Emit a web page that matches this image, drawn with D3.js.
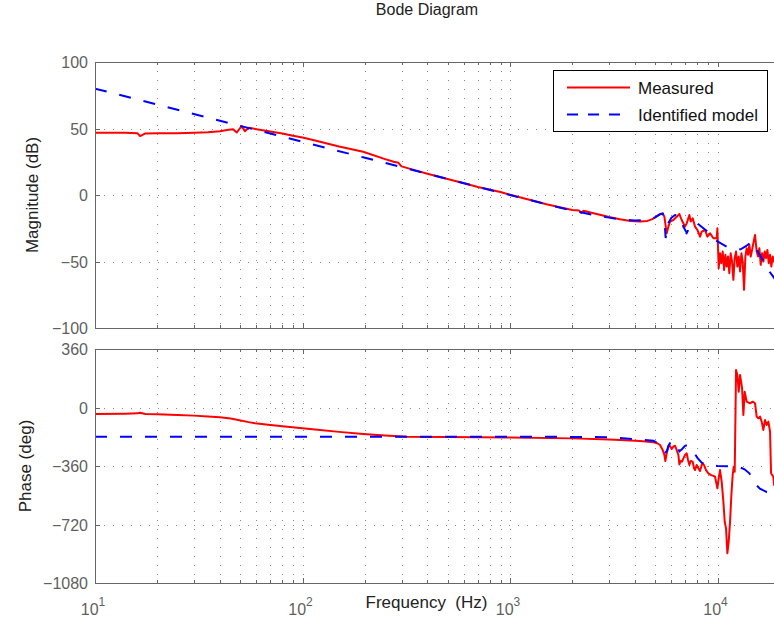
<!DOCTYPE html>
<html>
<head>
<meta charset="utf-8">
<script src="https://cdn.jsdelivr.net/npm/d3@7"></script>
<style>
  body { margin: 0; background: #fff; }
  svg { display: block; font-family: "Liberation Sans", Arial, sans-serif; }
</style>
</head>
<body>
<div id="chart"></div>
<script>
// Measured magnitude (Hz, dB)
const measuredMag = [
  [10, 46.8], [14, 46.8], [16, 46.5], [16.5, 44.3], [17.5, 46.3], [20, 46.5], [25, 46.5],
  [30, 46.8], [35, 47.2], [40, 48.0], [44, 49.0], [46.3, 49.5], [48.2, 47.0], [50.9, 51.8],
  [52.8, 48.0], [55, 50.5], [60, 49.5], [70, 47.8], [80, 46.3], [90, 44.5], [100, 43.2],
  [115, 41.0], [150, 36.5], [196, 32.5], [250, 27.0], [275, 25.0], [290, 24.2], [300, 21.5],
  [350, 18.5], [400, 16.0], [500, 12.0], [600, 8.8], [700, 6.0], [800, 4.0], [900, 2.2],
  [1000, 0.2], [1200, -3], [1500, -7], [1800, -9.8], [2000, -11.2], [2150, -11.6],
  [2200, -13.5], [2260, -11.8], [2500, -13.6], [3000, -16.6], [3389, -18.3], [3800, -19.5],
  [4231, -20.0], [4600, -19.5], [4817, -18.3], [5100, -16.0], [5284, -14.3], [5443, -13.8],
  [5544, -16.3], [5689, -28.8], [5796, -23.8], [5904, -20.0], [6126, -18.8], [6358, -16.3],
  [6549, -14.3], [6720, -18.8], [6973, -23.8], [7103, -21.3], [7317, -15.0], [7425, -20.0],
  [7592, -17.5], [7793, -23.8], [7997, -26.3], [8238, -31.3], [8391, -27.5], [8708, -26.3],
  [8935, -31.3], [9204, -28.8], [9549, -32.5], [9908, -32.5], [9982, -25.0], [10130, -55.0],
  [10280, -43.8], [10430, -51.3], [10590, -42.5], [10750, -56.3], [10910, -45.0],
  [11070, -53.8], [11230, -46.3], [11400, -58.8], [11570, -43.8], [11750, -50.0],
  [11920, -63.8], [12100, -47.5], [12280, -42.5], [12460, -53.8], [12650, -46.3],
  [12840, -57.5], [13030, -43.8], [13220, -50.0], [13420, -71.3], [13620, -46.3],
  [13820, -40.0], [14030, -45.0], [14240, -37.5], [14450, -46.3], [14670, -41.3],
  [14880, -36.3], [15160, -30.0], [15440, -42.5], [15680, -46.3], [15910, -40.0],
  [16150, -52.5], [16390, -43.8], [16630, -50.0], [16880, -42.5], [17130, -47.5],
  [17390, -41.3], [17650, -51.3], [17910, -45.0], [18170, -53.8], [18450, -46.3],
  [18720, -50.0], [19300, -52.0], [20000, -49.0]
];

// Identified model magnitude (Hz, dB)
const modelMag = [
  [10, 80], [20, 68], [50, 52], [100, 40], [200, 28], [300, 21], [500, 12], [1000, 0],
  [1500, -7], [2000, -11.8], [2500, -14.8], [3000, -17.0], [3389, -18.3], [4000, -19.2],
  [4600, -18.6], [5000, -16.8], [5283, -14.5], [5442, -14.0], [5544, -18.0], [5623, -32.3],
  [5700, -27.0], [5800, -21.0], [6000, -17.0], [6240, -15.0], [6500, -15.5], [6700, -18.0],
  [6840, -23.8], [7110, -28.5], [7300, -25.0], [7520, -22.5], [7950, -21.0], [8400, -24.0],
  [8940, -27.5], [9730, -33.8], [11070, -38.8], [12000, -40.5], [12930, -40.8],
  [13700, -38.5], [14450, -35.8], [14900, -35.5], [15450, -41.3], [16520, -48.8],
  [17780, -57.5], [18720, -62.3], [20000, -68.0]
];

// Measured phase (Hz, deg)
const measuredPhase = [
  [10, -40], [14, -38], [16, -36], [16.5, -32], [17.5, -40], [20, -42], [25, -46], [30, -50],
  [35, -55], [40, -60], [45, -68], [49, -77], [55, -90], [59, -97], [70, -108], [80, -116],
  [100, -128], [115, -136], [150, -150], [196, -163], [250, -172], [318, -180], [500, -182],
  [1000, -185], [2000, -190], [3000, -197], [3389, -200], [4231, -206], [4908, -214],
  [5129, -220], [5283, -231], [5442, -262], [5544, -292], [5606, -329], [5689, -282],
  [5796, -241], [5861, -231], [6014, -255], [6126, -241], [6240, -235], [6357, -262],
  [6476, -292], [6549, -350], [6646, -329], [6745, -333], [6845, -313], [6973, -292],
  [7103, -282], [7209, -323], [7317, -354], [7425, -329], [7591, -333], [7703, -374],
  [7789, -385], [7934, -354], [8082, -374], [8234, -391], [8388, -354], [8482, -344],
  [8609, -354], [8801, -385], [9033, -405], [9269, -415], [9477, -419], [9727, -426],
  [9835, -456], [9982, -497], [10130, -436], [10280, -385], [10470, -456], [10670, -579],
  [10830, -703], [10990, -744], [11150, -897], [11320, -826], [11490, -703], [11660, -538],
  [11830, -415], [11970, -364], [12100, -395], [12190, -87], [12280, 231], [12460, 200],
  [12650, 97], [12840, 200], [13130, 118], [13320, -46], [13520, 97], [13820, 36],
  [14340, 26], [14770, 36], [15160, 26], [15440, -56], [15730, -67], [16020, -56],
  [16320, -87], [16630, -138], [16940, -77], [17250, -108], [17580, -87], [17910, -149],
  [18110, -405], [18580, -426], [18720, -477], [20000, -480]
];

// Identified model phase (Hz, deg)
const modelPhase = [
  [10, -180], [1000, -180], [2000, -181], [3000, -183], [3389, -188], [4231, -198],
  [4908, -205], [5283, -225], [5442, -245], [5606, -275], [5700, -268], [5800, -235],
  [5950, -212], [6126, -208], [6300, -222], [6550, -270], [6750, -255], [6973, -236],
  [7150, -232], [7400, -250], [7703, -277], [8000, -310], [8388, -340], [9000, -355],
  [10000, -360], [11500, -362], [12800, -368], [13500, -380], [14240, -405], [15160, -468],
  [16000, -500], [17250, -520], [18720, -527], [20000, -528]
];

const magTicks = [-100, -50, 0, 50, 100];
const phaseTicks = [-1080, -720, -360, 0, 360];
const decades = [10, 100, 1000, 10000];
const seriesNames = ['Measured', 'Identified model'];

const width = 774, height = 625;
const left = 95, right = 780;
const axisColor = '#666';
const gridColor = '#8a8a8a';

const svg = d3.select('#chart').append('svg')
  .attr('width', width)
  .attr('height', height);

const x = d3.scaleLog().domain([10, 20000]).range([left, right]);

// minor frequencies 2..9 x decade
const minorFreqs = [];
decades.forEach(d => { for (let k = 2; k <= 9; k++) if (k * d <= 20000) minorFreqs.push(k * d); });

const fmt = v => v < 0 ? '\u2212' + Math.abs(v) : String(v);

const panels = [
  { id: 'mag', top: 62, bottom: 328, domain: [-100, 100], ticks: magTicks, label: 'Magnitude (dB)',
    labelX: 38, measured: measuredMag, model: modelMag },
  { id: 'phase', top: 349, bottom: 583, domain: [-1080, 360], ticks: phaseTicks, label: 'Phase (deg)',
    labelX: 31, measured: measuredPhase, model: modelPhase }
];

panels.forEach(p => {
  const y = d3.scaleLinear().domain(p.domain).range([p.bottom, p.top]);
  const g = svg.append('g');

  g.append('clipPath').attr('id', 'clip-' + p.id)
    .append('rect')
    .attr('x', left).attr('y', p.top)
    .attr('width', right - left).attr('height', p.bottom - p.top);

  // grid
  const grid = g.append('g')
    .attr('stroke', gridColor)
    .attr('stroke-width', 1)
    .attr('stroke-dasharray', '1,8');
  grid.selectAll('line.v')
    .data(decades.concat(minorFreqs))
    .enter().append('line')
    .attr('x1', d => Math.round(x(d)) + 0.5).attr('x2', d => Math.round(x(d)) + 0.5)
    .attr('y1', p.top).attr('y2', p.bottom);
  grid.selectAll('line.h')
    .data(p.ticks)
    .enter().append('line')
    .attr('x1', left).attr('x2', right)
    .attr('y1', d => Math.round(y(d)) + 0.5).attr('y2', d => Math.round(y(d)) + 0.5);

  // tick marks (inside)
  const ticks = g.append('g').attr('stroke', axisColor).attr('stroke-width', 1);
  [[decades, 5], [minorFreqs, 3]].forEach(([vals, len]) => {
    ticks.selectAll(null).data(vals).enter().append('line')
      .attr('x1', d => Math.round(x(d)) + 0.5).attr('x2', d => Math.round(x(d)) + 0.5)
      .attr('y1', p.top).attr('y2', p.top + len);
    ticks.selectAll(null).data(vals).enter().append('line')
      .attr('x1', d => Math.round(x(d)) + 0.5).attr('x2', d => Math.round(x(d)) + 0.5)
      .attr('y1', p.bottom).attr('y2', p.bottom - len);
  });
  ticks.selectAll(null).data(p.ticks).enter().append('line')
    .attr('x1', left).attr('x2', left + 5)
    .attr('y1', d => Math.round(y(d)) + 0.5).attr('y2', d => Math.round(y(d)) + 0.5);

  // curves
  const line = d3.line().x(d => x(d[0])).y(d => y(d[1]));
  const curves = g.append('g').attr('clip-path', `url(#clip-${p.id})`).attr('fill', 'none');
  curves.append('path')
    .attr('d', line(p.measured))
    .attr('stroke', '#ff0000')
    .attr('stroke-width', 2)
    .attr('stroke-linejoin', 'round');
  curves.append('path')
    .attr('d', line(p.model))
    .attr('stroke', '#0000ff')
    .attr('stroke-width', 2)
    .attr('stroke-dasharray', '12,13');

  // frame
  g.append('rect')
    .attr('x', left + 0.5).attr('y', p.top + 0.5)
    .attr('width', right - left).attr('height', p.bottom - p.top)
    .attr('fill', 'none').attr('stroke', axisColor).attr('stroke-width', 1);

  // y tick labels
  g.selectAll('text.yt')
    .data(p.ticks)
    .enter().append('text')
    .attr('x', 88).attr('y', d => y(d) + 6)
    .attr('text-anchor', 'end')
    .attr('font-size', 16)
    .attr('fill', '#5f5f5f')
    .text(fmt);

  // y label
  g.append('text')
    .attr('transform', `translate(${p.labelX},${(p.top + p.bottom) / 2}) rotate(-90)`)
    .attr('text-anchor', 'middle')
    .attr('font-size', 17)
    .attr('fill', '#222')
    .text(p.label);
});

// x tick labels (10^n)
const xl = svg.append('g').attr('fill', '#5f5f5f');
decades.forEach(d => {
  const t = xl.append('text')
    .attr('x', x(d) - 2).attr('y', 615)
    .attr('text-anchor', 'middle')
    .attr('font-size', 16);
  t.append('tspan').text('10');
  t.append('tspan').attr('dy', -9).attr('font-size', 12).text(Math.round(Math.log10(d)));
});

// x label
svg.append('text')
  .attr('x', 426.5).attr('y', 608)
  .attr('text-anchor', 'middle')
  .attr('font-size', 17)
  .attr('fill', '#222')
  .text('Frequency  (Hz)')
  .style('white-space', 'pre');

// title
svg.append('text')
  .attr('x', 427).attr('y', 15)
  .attr('text-anchor', 'middle')
  .attr('font-size', 16)
  .attr('fill', '#222')
  .text('Bode Diagram');

// legend
const lg = svg.append('g');
lg.append('rect')
  .attr('x', 553.5).attr('y', 70.5)
  .attr('width', 214).attr('height', 61)
  .attr('fill', '#fff').attr('stroke', '#000').attr('stroke-width', 1);
const legendStyles = [
  { color: '#ff0000', dash: null, y: 87.5 },
  { color: '#0000ff', dash: '11,10', y: 114.5 }
];
seriesNames.forEach((name, i) => {
  const s = legendStyles[i];
  lg.append('line')
    .attr('x1', 567).attr('x2', 630)
    .attr('y1', s.y).attr('y2', s.y)
    .attr('stroke', s.color).attr('stroke-width', 2)
    .attr('stroke-dasharray', s.dash);
  lg.append('text')
    .attr('x', 638).attr('y', s.y + 6)
    .attr('font-size', 17)
    .attr('fill', '#111')
    .text(name);
});
</script>
</body>
</html>
